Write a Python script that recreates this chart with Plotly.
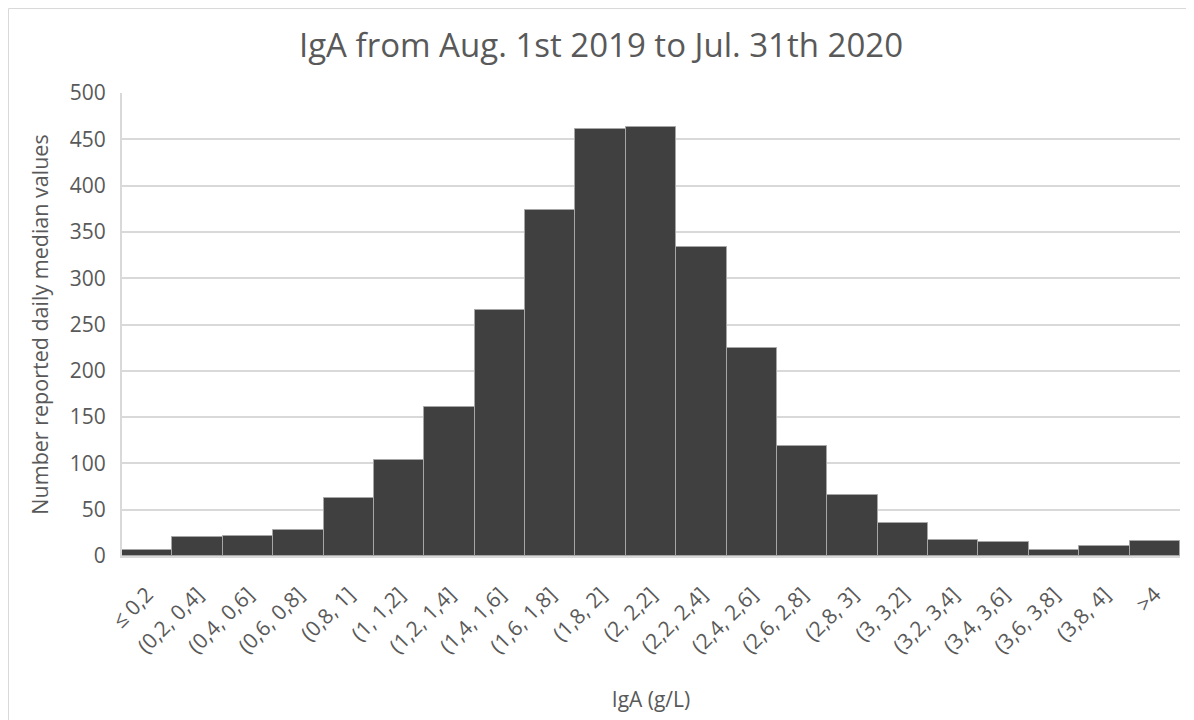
import plotly.graph_objects as go

categories = ["≤ 0,2", "(0,2, 0,4]", "(0,4, 0,6]", "(0,6, 0,8]", "(0,8, 1]", "(1, 1,2]",
              "(1,2, 1,4]", "(1,4, 1,6]", "(1,6, 1,8]", "(1,8, 2]", "(2, 2,2]", "(2,2, 2,4]",
              "(2,4, 2,6]", "(2,6, 2,8]", "(2,8, 3]", "(3, 3,2]", "(3,2, 3,4]", "(3,4, 3,6]",
              "(3,6, 3,8]", "(3,8, 4]", ">4"]
counts = [7, 20, 22, 28, 63, 104, 161, 266, 374, 461, 463, 334, 225, 119, 66, 36, 17, 15, 7, 11, 16]
y_ticks = [0, 50, 100, 150, 200, 250, 300, 350, 400, 450, 500]

FONT = "Open Sans"
TXT = "#595959"

fig = go.Figure(go.Bar(
    x=categories, y=counts,
    marker=dict(color="#404040", line=dict(color="#A6A6A6", width=1)),
))

# page body has an 8px margin; screen coords = 8 + figure coords
OFF = 8
W, H = 1194 - OFF, 720 - OFF
L, T = 122 - OFF, 93 - OFF
R = W - (1180 - OFF)
B = H - (556 - OFF)
pw, ph = W - L - R, H - T - B

fig.update_layout(
    width=W, height=H,
    margin=dict(l=L, r=R, t=T, b=B, autoexpand=False),
    paper_bgcolor="white", plot_bgcolor="white",
    bargap=0,
    showlegend=False,
    font=dict(family=FONT, color=TXT),
    title=dict(text="IgA from Aug. 1st 2019 to Jul. 31th 2020", x=0.5, xanchor="center",
               y=1 - (45 - OFF) / H, yanchor="middle", font=dict(size=33, color=TXT, family=FONT)),
    xaxis=dict(
        type="category", tickangle=-45, tickfont=dict(size=21, color=TXT),
        showline=True, linecolor="#D9D9D9", linewidth=2,
        showgrid=False, ticks="", automargin=False, ticklabelstandoff=16,
        title=dict(text="IgA (g/L)", font=dict(size=21, color=TXT), standoff=34),
    ),
    yaxis=dict(
        range=[0, 500], tickvals=y_ticks, tickfont=dict(size=21, color=TXT),
        showgrid=True, gridcolor="#D9D9D9", gridwidth=1.5,
        showline=True, linecolor="#D9D9D9", linewidth=2,
        zeroline=False, ticks="", ticklabelstandoff=10, automargin=False,
        title=dict(text="Number reported daily median values", font=dict(size=21.5, color=TXT), standoff=15),
    ),
    shapes=[dict(type="rect", xref="paper", yref="paper",
                 x0=(0.5 - L) / pw, x1=(W + 10 - L) / pw,
                 y0=-(B + 10) / ph, y1=1 + (T - 0.5) / ph,
                 line=dict(color="#D9D9D9", width=1), layer="below")],
)

fig.write_html("out.html")
